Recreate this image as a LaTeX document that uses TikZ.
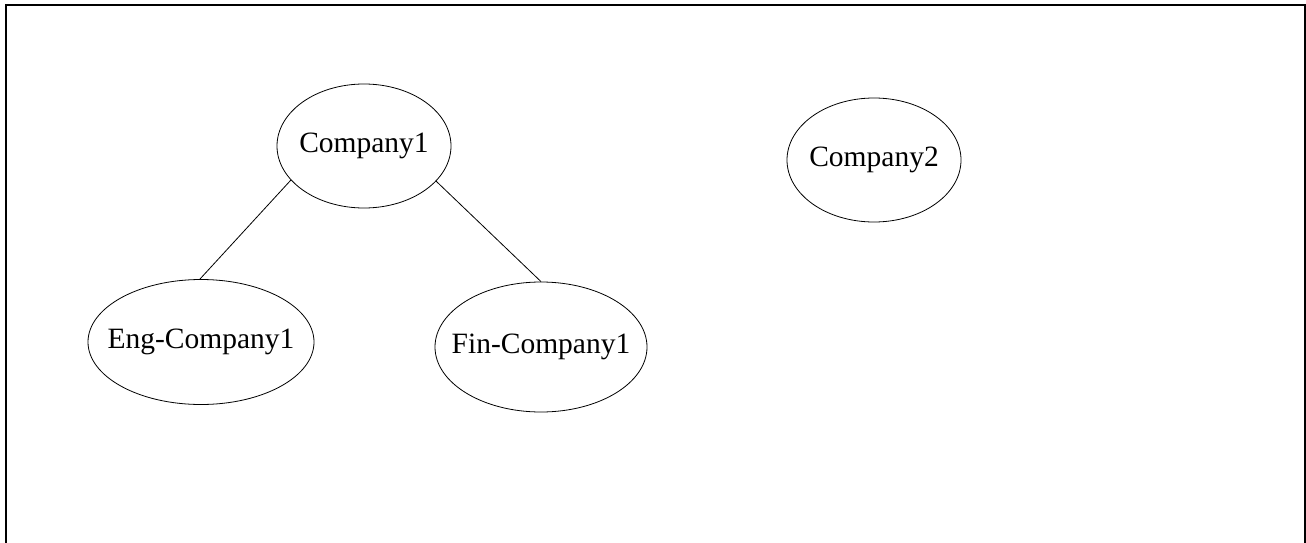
\documentclass[tikz,border=0pt]{standalone}
\usepackage{fontspec}
\setmainfont{Liberation Serif}
\usetikzlibrary{shapes.geometric}
\tikzset{
    company/.style={draw, ellipse, line width=0.8pt, inner sep=0pt, font=\fontsize{29.5}{34}\selectfont},
    link/.style={line width=0.8pt}
}
\begin{document}
\begin{tikzpicture}[x=1pt,y=-1pt]
    \useasboundingbox (0,0) rectangle (1306,543);
    \draw[line width=1.6pt] (6,543) -- (6,5) -- (1305,5) -- (1305,543);
    \node[company, minimum width=174pt, minimum height=124pt] (company1) at (364,146) {\makebox[0pt]{Company1}};
    \node[company, minimum width=174pt, minimum height=124pt] (company2) at (874,160) {\makebox[0pt]{Company2}};
    \node[company, minimum width=226pt, minimum height=125pt] (engcompany1) at (201,342) {\makebox[0pt]{Eng-Company1}};
    \node[company, minimum width=212pt, minimum height=130pt] (fincompany1) at (541,347) {\makebox[0pt]{Fin-Company1}};
    \draw[link] (company1.205) -- (engcompany1.91);
    \draw[link] (company1.-26) -- (fincompany1.90);
\end{tikzpicture}
\end{document}
